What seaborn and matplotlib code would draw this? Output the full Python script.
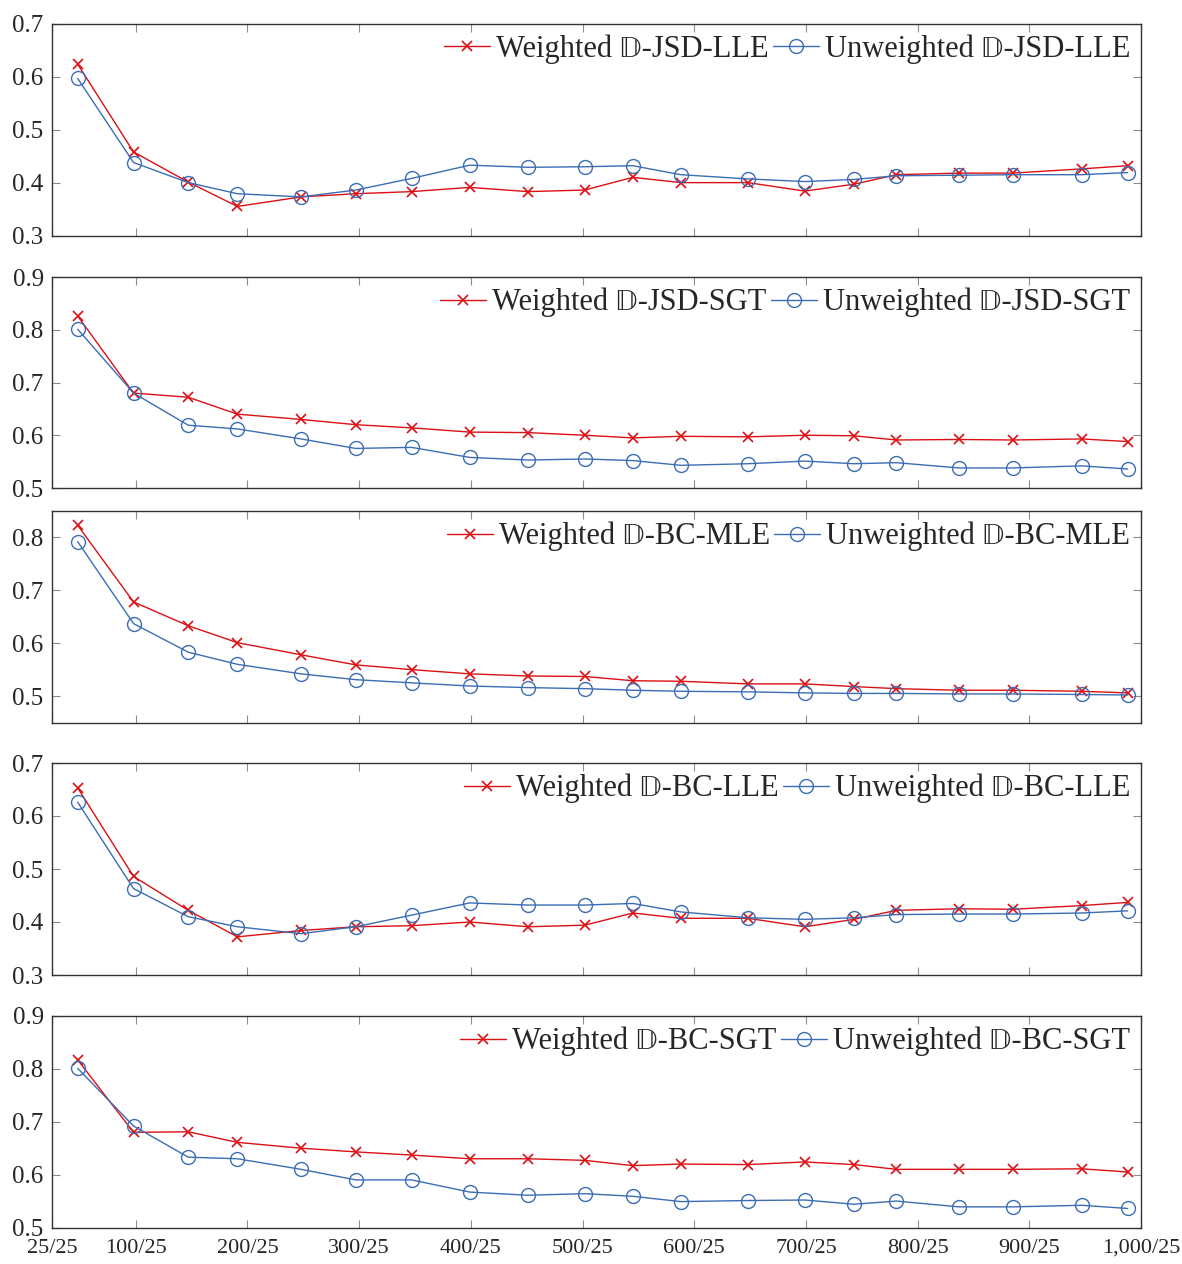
import matplotlib
matplotlib.use("Agg")
import matplotlib.pyplot as plt
import pandas as pd
import seaborn as sns

# ---------------- data ----------------
x_values = [48, 98, 147, 191, 248, 297, 347, 399, 451, 502,
            545, 588, 648, 699, 743, 781, 837, 885, 947, 988]

x_ticks = [25, 100, 200, 300, 400, 500, 600, 700, 800, 900, 1000]
x_tick_labels = ["25/25", "100/25", "200/25", "300/25", "400/25", "500/25",
                 "600/25", "700/25", "800/25", "900/25", "1,000/25"]

panel_names = ["JSD-LLE", "JSD-SGT", "BC-MLE", "BC-LLE", "BC-SGT"]

jsd_lle_weighted = [0.624, 0.458, 0.401, 0.355, 0.373, 0.379, 0.383, 0.391, 0.383, 0.386,
                    0.410, 0.400, 0.400, 0.384, 0.397, 0.415, 0.418, 0.418, 0.426, 0.432]
jsd_lle_unweighted = [0.597, 0.438, 0.400, 0.379, 0.373, 0.386, 0.408, 0.433, 0.429, 0.430,
                      0.432, 0.415, 0.407, 0.402, 0.406, 0.413, 0.414, 0.415, 0.415, 0.419]

jsd_sgt_weighted = [0.826, 0.680, 0.672, 0.640, 0.630, 0.620, 0.614, 0.606, 0.605, 0.600,
                    0.595, 0.598, 0.597, 0.600, 0.599, 0.591, 0.592, 0.591, 0.593, 0.588]
jsd_sgt_unweighted = [0.801, 0.680, 0.619, 0.612, 0.593, 0.575, 0.577, 0.558, 0.553, 0.555,
                      0.552, 0.543, 0.546, 0.551, 0.546, 0.548, 0.538, 0.538, 0.542, 0.536]

bc_mle_weighted = [0.823, 0.678, 0.633, 0.601, 0.578, 0.559, 0.550, 0.542, 0.538, 0.537,
                   0.529, 0.528, 0.523, 0.523, 0.518, 0.514, 0.511, 0.511, 0.509, 0.506]
bc_mle_unweighted = [0.792, 0.637, 0.583, 0.560, 0.542, 0.531, 0.525, 0.519, 0.516, 0.514,
                     0.511, 0.509, 0.508, 0.506, 0.505, 0.505, 0.504, 0.504, 0.503, 0.502]

bc_lle_weighted = [0.653, 0.486, 0.422, 0.372, 0.384, 0.391, 0.393, 0.400, 0.391, 0.394,
                   0.417, 0.407, 0.407, 0.391, 0.405, 0.422, 0.425, 0.424, 0.431, 0.437]
bc_lle_unweighted = [0.626, 0.463, 0.410, 0.391, 0.378, 0.391, 0.413, 0.436, 0.432, 0.432,
                     0.435, 0.419, 0.408, 0.405, 0.408, 0.414, 0.415, 0.415, 0.417, 0.421]

bc_sgt_weighted = [0.817, 0.680, 0.681, 0.661, 0.650, 0.643, 0.637, 0.630, 0.630, 0.627,
                   0.617, 0.620, 0.619, 0.624, 0.619, 0.610, 0.610, 0.610, 0.611, 0.605]
bc_sgt_unweighted = [0.801, 0.692, 0.633, 0.630, 0.610, 0.590, 0.590, 0.567, 0.561, 0.564,
                     0.559, 0.549, 0.551, 0.552, 0.544, 0.550, 0.539, 0.539, 0.542, 0.536]

weighted_series = [jsd_lle_weighted, jsd_sgt_weighted, bc_mle_weighted,
                   bc_lle_weighted, bc_sgt_weighted]
unweighted_series = [jsd_lle_unweighted, jsd_sgt_unweighted, bc_mle_unweighted,
                     bc_lle_unweighted, bc_sgt_unweighted]

y_limits = [(0.3, 0.7), (0.5, 0.9), (0.45, 0.85), (0.3, 0.7), (0.5, 0.9)]
y_ticks = [[0.3, 0.4, 0.5, 0.6, 0.7], [0.5, 0.6, 0.7, 0.8, 0.9],
           [0.5, 0.6, 0.7, 0.8], [0.3, 0.4, 0.5, 0.6, 0.7], [0.5, 0.6, 0.7, 0.8, 0.9]]

# ---------------- style ----------------
sns.set_style("white")
plt.rcParams["font.family"] = ["Liberation Serif", "STIXGeneral", "DejaVu Sans"]

RED = "#dc0f14"
BLUE = "#3b6db4"

W, H = 1182, 1264
fig = plt.figure(figsize=(W / 100, H / 100), dpi=100)

left_px, right_px = 52, 1141
panels_px = [(24, 235.5), (277, 488), (511, 722.5), (763, 975), (1016, 1227.5)]

for i, (top, bot) in enumerate(panels_px):
    ax = fig.add_axes([left_px / W, 1 - bot / H, (right_px - left_px) / W, (bot - top) / H])
    df = pd.DataFrame({"x": x_values, "w": weighted_series[i], "u": unweighted_series[i]})
    name = panel_names[i]
    sns.lineplot(data=df, x="x", y="w", ax=ax, color=RED, marker="x",
                 markersize=7, markeredgewidth=1.2, markeredgecolor=RED, linewidth=1.0,
                 label="Weighted \U0001D53B-" + name)
    sns.lineplot(data=df, x="x", y="u", ax=ax, color=BLUE, marker="o",
                 markersize=10, markerfacecolor="none", markeredgecolor=BLUE,
                 markeredgewidth=1.0, linewidth=1.0,
                 label="Unweighted \U0001D53B-" + name)
    ax.set_xlim(25, 1000)
    ax.set_ylim(*y_limits[i])
    ax.set_yticks(y_ticks[i])
    ax.set_yticklabels([f"{v:.1f}" for v in y_ticks[i]])
    ax.set_xticks(x_ticks)
    if i == len(panels_px) - 1:
        ax.set_xticklabels(x_tick_labels)
    else:
        ax.set_xticklabels([])
    ax.set_xlabel("")
    ax.set_ylabel("")
    ax.tick_params(axis="both", which="both", direction="in", length=6, width=0.8,
                   color="#8c8c8c", top=True, right=True, bottom=True, left=True)
    ax.tick_params(axis="y", labelsize=18, pad=6)
    ax.tick_params(axis="x", labelsize=16, pad=8)
    for sp in ax.spines.values():
        sp.set_visible(True)
        sp.set_linewidth(1.0)
        sp.set_color("#333333")
    ax.legend(loc="upper right", bbox_to_anchor=(1.0, 1.0), ncol=2, frameon=False,
              fontsize=22, handlelength=1.5, handletextpad=0.2, columnspacing=0.15,
              borderaxespad=0.15, borderpad=0.2)

fig.savefig("out.png", dpi=100)
